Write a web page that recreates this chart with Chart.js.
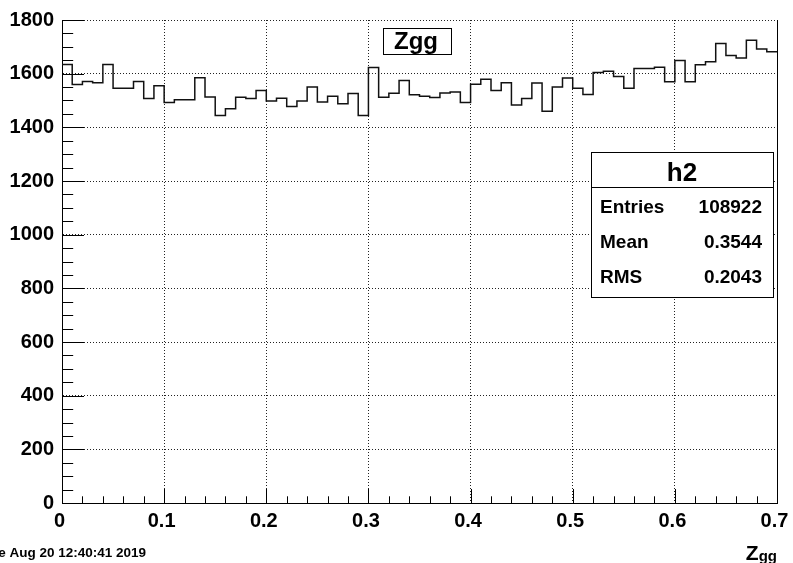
<!DOCTYPE html>
<html lang="en">
<head>
  <meta charset="UTF-8">
  <title>Zgg</title>
  <script src="https://cdn.jsdelivr.net/npm/chart.js"></script>
  <style>
    html, body {
      margin: 0;
      padding: 0;
      background-color: #fff;
    }
    canvas {
      display: block;
    }
  </style>
</head>
<body>
  <canvas id="zggChart" width="793" height="563"></canvas>

  <script>
    // histogram h2: 70 bins of width 0.01 from 0 to 0.7
    const binWidth = 0.01;
    const counts = [
      1634, 1560, 1571, 1566, 1634, 1546, 1546, 1571, 1507, 1555,
      1493, 1503, 1503, 1585, 1513, 1444, 1469, 1512, 1507, 1537,
      1498, 1508, 1478, 1498, 1550, 1494, 1516, 1488, 1526, 1444,
      1623, 1512, 1527, 1575, 1521, 1516, 1511, 1528, 1532, 1493,
      1561, 1579, 1537, 1566, 1483, 1507, 1565, 1460, 1550, 1584,
      1546, 1522, 1604, 1609, 1589, 1546, 1619, 1619, 1624, 1570,
      1649, 1570, 1633, 1644, 1712, 1668, 1658, 1725, 1692, 1682
    ];
    const xTickLabels = ['0', '0.1', '0.2', '0.3', '0.4', '0.5', '0.6', '0.7'];
    const yTickLabels = ['0', '200', '400', '600', '800', '1000', '1200', '1400', '1600', '1800'];
    const statNames = ['Entries', 'Mean', 'RMS'];
    const statValues = ['108922', '0.3544', '0.2043'];
    const histTitle = 'Zgg';
    const statTitle = 'h2';
    const dateText = 'Tue Aug 20 12:40:41 2019';

    // step line: one point per bin low edge, plus the upper edge of the last bin
    const points = counts.map((c, i) => ({ x: +(i * binWidth).toFixed(2), y: c }));
    points.push({ x: +(counts.length * binWidth).toFixed(2), y: counts[counts.length - 1] });

    const FONT = "'Liberation Sans', Arial, sans-serif";

    // ROOT style: inward ticks, right frame edge, x labels, title box, stats box
    const rootDecor = {
      id: 'rootDecor',
      afterDraw(chart) {
        const { ctx, chartArea: a, scales: { x, y } } = chart;
        ctx.save();
        ctx.strokeStyle = '#000';
        ctx.lineWidth = 1;

        // right edge
        const r = Math.round(a.right) + 0.5;
        ctx.beginPath();
        ctx.moveTo(r, a.top);
        ctx.lineTo(r, a.bottom);
        ctx.stroke();

        // y ticks, 4 subdivisions
        const yLeft = Math.round(a.left) + 0.5;
        for (let k = 0; k <= 36; k++) {
          const py = Math.round(y.getPixelForValue(k * 50)) + 0.5;
          const len = k % 4 === 0 ? 21.5 : 10.7;
          ctx.beginPath();
          ctx.moveTo(yLeft, py);
          ctx.lineTo(yLeft + len, py);
          ctx.stroke();
        }
        // x ticks, 5 subdivisions
        const xBot = Math.round(a.bottom) + 0.5;
        for (let k = 0; k <= 35; k++) {
          const px = Math.round(x.getPixelForValue(k * 0.02)) + 0.5;
          const len = k % 5 === 0 ? 14.5 : 7.2;
          ctx.beginPath();
          ctx.moveTo(px, xBot);
          ctx.lineTo(px, xBot - len);
          ctx.stroke();
        }

        ctx.textBaseline = 'alphabetic';
        ctx.fillStyle = '#000';

        // x tick labels (ROOT puts them a touch left of the tick)
        ctx.font = 'bold 20px ' + FONT;
        ctx.textAlign = 'center';
        xTickLabels.forEach(lbl => {
          ctx.fillText(lbl, x.getPixelForValue(+lbl) - 2.5, 527);
        });

        // title box
        ctx.fillStyle = '#fff';
        ctx.fillRect(383.5, 28.5, 68, 26);
        ctx.strokeRect(383.5, 28.5, 68, 26);
        ctx.fillStyle = '#000';
        ctx.font = 'bold 24px ' + FONT;
        ctx.textAlign = 'center';
        ctx.fillText(histTitle, 416, 49);

        // stats box
        ctx.fillStyle = '#fff';
        ctx.fillRect(591.5, 152.5, 182, 145);
        ctx.strokeRect(591.5, 152.5, 182, 145);
        ctx.beginPath();
        ctx.moveTo(591.5, 187.5);
        ctx.lineTo(773.5, 187.5);
        ctx.stroke();
        ctx.fillStyle = '#000';
        ctx.font = 'bold 26px ' + FONT;
        ctx.textAlign = 'center';
        ctx.fillText(statTitle, 682, 181);
        ctx.font = 'bold 19px ' + FONT;
        statNames.forEach((name, i) => {
          const by = 213 + i * 35;
          ctx.textAlign = 'left';
          ctx.fillText(name, 600, by);
          ctx.textAlign = 'right';
          ctx.fillText(statValues[i], 762, by);
        });

        // axis title Z_gg
        ctx.textAlign = 'right';
        ctx.font = 'bold 15px ' + FONT;
        ctx.fillText('gg', 777, 561);
        const ggW = ctx.measureText('gg').width;
        ctx.font = 'bold 21px ' + FONT;
        ctx.fillText('Z', 777 - ggW, 560);

        // date stamp, cut at the left edge
        ctx.font = 'bold 13.5px ' + FONT;
        ctx.textAlign = 'right';
        ctx.fillText(dateText, 146, 557);

        ctx.restore();
      }
    };

    const tickFont = { family: FONT, weight: 'bold', size: 20 };
    const ctx = document.getElementById('zggChart').getContext('2d');
    new Chart(ctx, {
      type: 'line',
      data: {
        datasets: [{
          data: points,
          stepped: 'before',
          borderColor: '#111',
          borderWidth: 1.5,
          pointRadius: 0,
          fill: false
        }]
      },
      options: {
        responsive: false,
        animation: false,
        events: [],
        layout: {
          padding: { top: 20, right: 16, left: 0, bottom: 0 }
        },
        plugins: {
          legend: { display: false },
          tooltip: { enabled: false }
        },
        scales: {
          x: {
            type: 'linear',
            min: 0,
            max: 0.7,
            afterBuildTicks: s => { s.ticks = xTickLabels.map(v => ({ value: +v })); },
            afterFit: s => { s.height = 60; s.paddingLeft = 0; s.paddingRight = 0; },
            ticks: { display: false },
            grid: { color: '#222', lineWidth: 1, drawTicks: false },
            border: { display: true, color: '#000', width: 1, dash: [1, 2] }
          },
          y: {
            min: 0,
            max: 1800,
            afterBuildTicks: s => { s.ticks = yTickLabels.map(v => ({ value: +v })); },
            afterFit: s => { s.width = 62; s.paddingTop = 0; s.paddingBottom = 0; },
            ticks: {
              callback: (v, i) => yTickLabels[i],
              font: tickFont,
              color: '#000',
              padding: 8,
              autoSkip: false
            },
            grid: { color: '#222', lineWidth: 1, drawTicks: false },
            border: { display: true, color: '#000', width: 1, dash: [1, 2] }
          }
        }
      },
      plugins: [rootDecor]
    });
  </script>
</body>
</html>
